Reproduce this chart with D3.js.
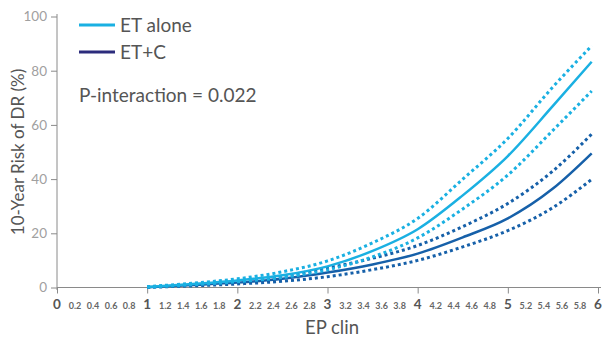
<!DOCTYPE html>
<html>
<head>
<meta charset="utf-8">
<script src="https://cdn.jsdelivr.net/npm/d3@7"></script>
<style>
	body { margin: 0; background: #fff; }
	svg { display: block; font-family: Lato, 'Open Sans', sans-serif; }
</style>
</head>
<body>
<svg id="chart"></svg>
<script>
// ========== DATA ==========
var epX = [1, 1.5, 2, 2.5, 3, 3.5, 4, 4.5, 5, 5.5, 5.93];
var etAlone = [0.2, 1.3, 2.6, 4.5, 7.8, 13.5, 21.5, 34, 48.5, 67, 83.3];
var etAloneUpper = [0.3, 1.6, 3.2, 5.8, 9.8, 16.5, 25.5, 40, 55, 74, 89.2];
var etAloneLower = [0.1, 1.0, 2.1, 3.7, 6.5, 11.3, 18.3, 29, 41.5, 58, 72.5];
var etC = [0.1, 0.9, 1.8, 3.2, 5.5, 8.5, 12.5, 18.5, 25.5, 36.5, 49.5];
var etCUpper = [0.2, 1.1, 2.3, 4.2, 7.2, 10.8, 15.5, 22.5, 31, 43, 56.6];
var etCLower = [0.05, 0.6, 1.3, 2.3, 4.0, 6.6, 10, 15, 21, 29.5, 39.9];

var yTicks = [0, 20, 40, 60, 80, 100];
var xMajor = [0, 1, 2, 3, 4, 5, 6];
var xMinor = [0.2, 0.4, 0.6, 0.8, 1.2, 1.4, 1.6, 1.8, 2.2, 2.4, 2.6, 2.8,
	3.2, 3.4, 3.6, 3.8, 4.2, 4.4, 4.6, 4.8, 5.2, 5.4, 5.6, 5.8];
var legendLabels = ['ET alone', 'ET+C'];
var pText = 'P-interaction = 0.022';

// ========== CONSTANTS ==========
var width = 605;
var height = 342;
var light = '#1ab0e2';
var dark = '#1660a9';
var legendDark = '#2c2c7c';
var axisColor = '#8a8a8a';

var svg = d3.select('#chart')
	.attr('width', width)
	.attr('height', height);

var x = d3.scaleLinear().domain([0, 6]).range([57, 598]);
var y = d3.scaleLinear().domain([0, 100]).range([287.5, 16.5]);

// y axis
var yAxis = svg.append('g')
	.attr('transform', 'translate(57,0)')
	.call(d3.axisLeft(y).tickValues(yTicks).tickSize(6).tickPadding(4));
yAxis.select('.domain').attr('d', 'M0,14V290').attr('stroke', axisColor);
yAxis.selectAll('.tick line').attr('stroke', axisColor);
yAxis.selectAll('.tick text')
	.attr('fill', '#a0a0a0')
	.style('font-size', '13.5px')
	.style('font-family', 'Lato, sans-serif');

// x axis
var xAxis = svg.append('g')
	.attr('transform', 'translate(0,287.5)')
	.call(d3.axisBottom(x).tickValues(xMajor).tickSize(6).tickFormat(''));
xAxis.select('.domain').attr('d', 'M57,0H601').attr('stroke', axisColor);
xAxis.selectAll('.tick line').attr('stroke', axisColor);

svg.append('g').selectAll('text')
	.data(xMajor).enter().append('text')
	.attr('x', function(d) { return x(d); })
	.attr('y', 308.5)
	.attr('text-anchor', 'middle')
	.attr('fill', '#555')
	.style('font-size', '13.5px')
	.style('font-weight', 'bold')
	.text(function(d) { return d; });

svg.append('g').selectAll('text')
	.data(xMinor).enter().append('text')
	.attr('x', function(d) { return x(d); })
	.attr('y', 308.5)
	.attr('text-anchor', 'middle')
	.attr('fill', '#666')
	.style('font-size', '9px')
	.style('font-weight', 'bold')
	.text(function(d) { return d.toFixed(1); });

// axis titles
svg.append('text')
	.attr('x', 332)
	.attr('y', 334)
	.attr('text-anchor', 'middle')
	.attr('fill', '#555')
	.style('font-size', '18.5px')
	.text('EP clin');

svg.append('text')
	.attr('transform', 'translate(24,152)rotate(-90)')
	.attr('text-anchor', 'middle')
	.attr('fill', '#555')
	.style('font-size', '17px')
	.text('10-Year Risk of DR (%)');

// curves
var line = d3.line()
	.x(function(d) { return x(d[0]); })
	.y(function(d) { return y(d[1]); })
	.curve(d3.curveMonotoneX);

function drawCurve(values, color, dashed) {
	var path = svg.append('path')
		.datum(epX.map(function(v, i) { return [v, values[i]]; }))
		.attr('d', line)
		.attr('fill', 'none')
		.attr('stroke', color);
	if (dashed) {
		path.attr('stroke-width', 3).attr('stroke-dasharray', '3,3');
	} else {
		path.attr('stroke-width', 2.5);
	}
}

drawCurve(etCLower, dark, true);
drawCurve(etCUpper, dark, true);
drawCurve(etC, dark, false);
drawCurve(etAloneLower, light, true);
drawCurve(etAloneUpper, light, true);
drawCurve(etAlone, light, false);

// legend
var legendColors = [light, legendDark];
var legend = svg.append('g');
legend.selectAll('line')
	.data(legendLabels).enter().append('line')
	.attr('x1', 79).attr('x2', 115)
	.attr('y1', function(d, i) { return 25 + i * 27; })
	.attr('y2', function(d, i) { return 25 + i * 27; })
	.attr('stroke', function(d, i) { return legendColors[i]; })
	.attr('stroke-width', 3);
legend.selectAll('text')
	.data(legendLabels).enter().append('text')
	.attr('x', 120)
	.attr('y', function(d, i) { return 32 + i * 27; })
	.attr('fill', '#555')
	.style('font-size', '19px')
	.text(function(d) { return d; });

svg.append('text')
	.attr('x', 79)
	.attr('y', 102)
	.attr('fill', '#555')
	.style('font-size', '19px')
	.text(pText);
</script>
</body>
</html>
